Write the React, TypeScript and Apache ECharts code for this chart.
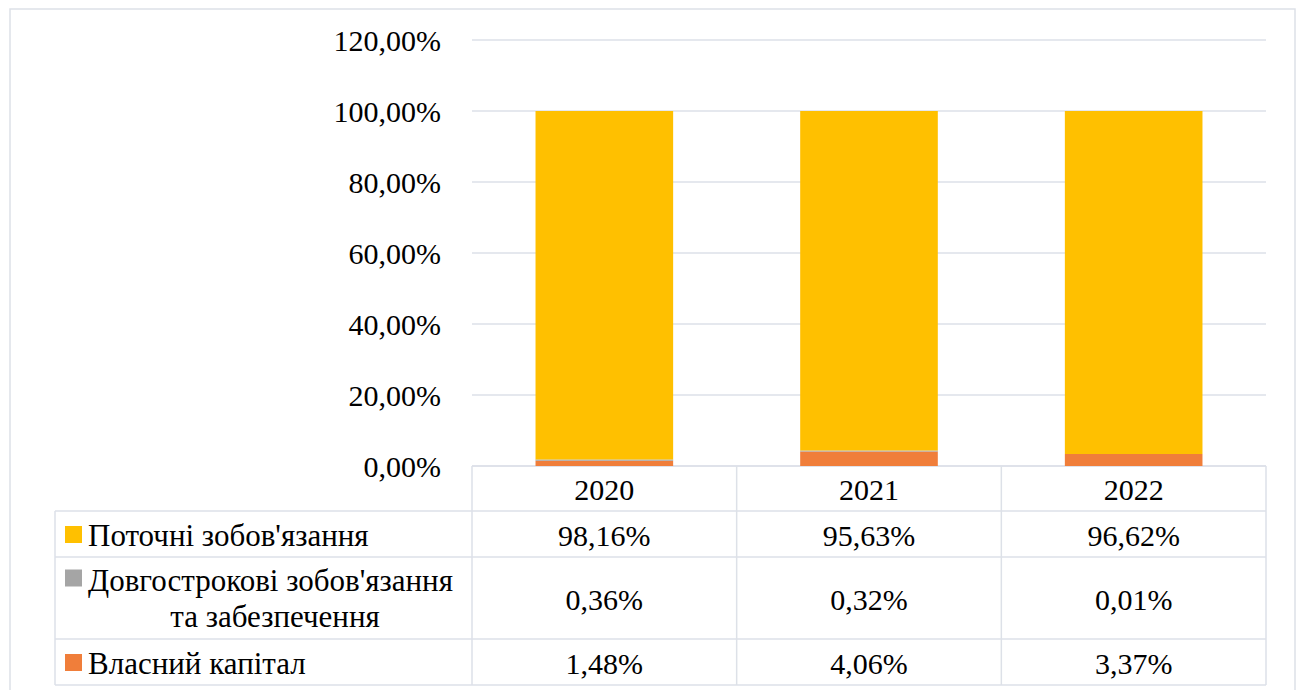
import React, { useEffect, useRef } from "react";
import * as echarts from "echarts";

const categories = ["2020", "2021", "2022"];
const seriesNames = ["Поточні зобов'язання", "Довгострокові зобов'язання та забезпечення", "Власний капітал"];
const current = [98.16, 95.63, 96.62];
const longTerm = [0.36, 0.32, 0.01];
const equity = [1.48, 4.06, 3.37];
const yTicks = [0, 20, 40, 60, 80, 100, 120];

const fmt = (v: number) => v.toFixed(2).replace(".", ",") + "%";

const W = 1298;
const H = 690;
const GL = 472;
const GR = 1266;
const GT = 40;
const GB = 466;
const FONT = "Liberation Serif";
const FS = 30;
const LFS = 31;
const LINE = "#dde1e8";

const COLORS = ["#FFC000", "#A5A5A5", "#F07E3A"];

export default function App() {
  const ref = useRef<HTMLDivElement>(null);
  useEffect(() => {
    const chart = echarts.init(ref.current!, undefined, { renderer: "svg" });
    const colW = (GR - GL) / categories.length;
    const rows = [GB, 511, 557, 639, 685];
    const graphics: any[] = [];
    graphics.push({
      type: "rect",
      shape: { x: 10, y: 9, width: 1285, height: 700 },
      style: { fill: "none", stroke: LINE, lineWidth: 1.5 },
    });
    rows.forEach((y, i) => {
      graphics.push({
        type: "line",
        shape: { x1: i === 0 ? GL : 55, y1: y, x2: GR, y2: y },
        style: { stroke: LINE, lineWidth: 1.5 },
      });
    });
    for (let i = 0; i <= categories.length; i++) {
      const x = GL + i * colW;
      graphics.push({
        type: "line",
        shape: { x1: x, y1: GB, x2: x, y2: rows[4] },
        style: { stroke: LINE, lineWidth: 1.5 },
      });
    }
    graphics.push({
      type: "line",
      shape: { x1: 55, y1: rows[1], x2: 55, y2: rows[4] },
      style: { stroke: LINE, lineWidth: 1.5 },
    });
    const txt = (x: number, y: number, text: string, align = "center", size = FS) => ({
      type: "text",
      x,
      y,
      style: {
        text,
        fill: "#000",
        fontFamily: FONT,
        fontSize: size,
        align,
        verticalAlign: "middle",
      },
    });
    categories.forEach((c, i) => {
      graphics.push(txt(GL + (i + 0.5) * colW, (rows[0] + rows[1]) / 2 + 1, c));
    });
    const rowData = [current, longTerm, equity];
    rowData.forEach((arr, r) => {
      const cy = (rows[r + 1] + rows[r + 2]) / 2 + 1;
      arr.forEach((v, i) => {
        graphics.push(txt(GL + (i + 0.5) * colW, cy, fmt(v)));
      });
      const my = r === 1 ? 578 : cy - 0.5;
      graphics.push({
        type: "rect",
        shape: { x: 65, y: my - 8.5, width: 17, height: 17 },
        style: { fill: COLORS[r] },
      });
      if (r === 1) {
        graphics.push(txt(88, 580, "Довгострокові зобов'язання", "left", LFS));
        graphics.push(txt(275, 616, "та забезпечення", "center", LFS));
      } else {
        graphics.push(txt(88, cy, seriesNames[r], "left", LFS));
      }
    });

    chart.setOption({
      animation: false,
      grid: { left: GL, right: W - GR, top: GT, bottom: H - GB },
      xAxis: {
        type: "category",
        data: categories,
        axisLine: { show: false },
        axisTick: { show: false },
        axisLabel: { show: false },
      },
      yAxis: {
        type: "value",
        min: yTicks[0],
        max: yTicks[yTicks.length - 1],
        interval: 20,
        axisLine: { show: false },
        axisTick: { show: false },
        splitLine: { lineStyle: { color: LINE, width: 1.5 } },
        axisLabel: {
          formatter: (v: number) => fmt(v),
          fontFamily: FONT,
          fontSize: FS,
          color: "#000",
          margin: 31,
        },
      },
      series: [
        { type: "bar", stack: "total", barWidth: "52%", name: seriesNames[2], data: equity, itemStyle: { color: COLORS[2] } },
        { type: "bar", stack: "total", barWidth: "52%", name: seriesNames[1], data: longTerm, itemStyle: { color: COLORS[1] } },
        { type: "bar", stack: "total", barWidth: "52%", name: seriesNames[0], data: current, itemStyle: { color: COLORS[0] } },
      ],
      graphic: graphics,
    });
    return () => chart.dispose();
  }, []);
  return <div ref={ref} style={{ position: "absolute", left: 0, top: 0, width: W, height: H }} />;
}
